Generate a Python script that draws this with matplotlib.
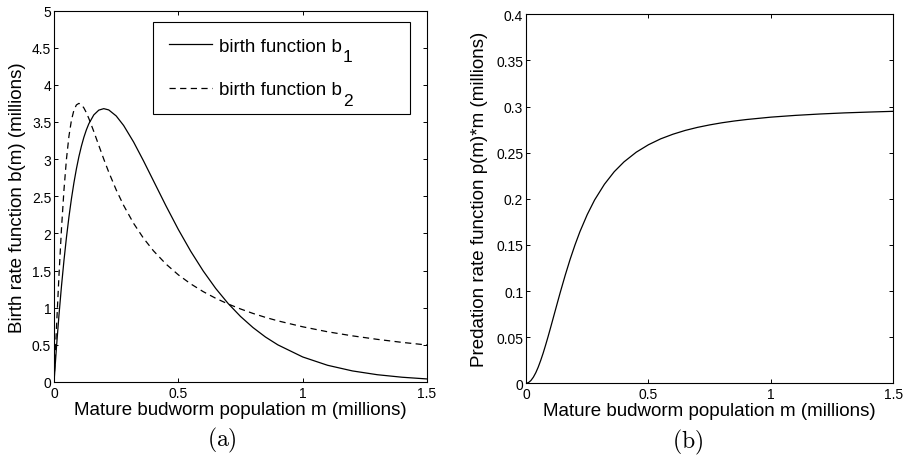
import matplotlib
matplotlib.use("Agg")
import matplotlib.pyplot as plt
from matplotlib import font_manager
from matplotlib.ticker import FuncFormatter

# Mature budworm population m (millions)
m = [0, 0.01, 0.02, 0.03, 0.04, 0.05, 0.06, 0.07, 0.08, 0.09, 0.10, 0.11, 0.12,
     0.13, 0.14, 0.16, 0.18, 0.20, 0.22, 0.25, 0.28, 0.32, 0.36, 0.40, 0.45,
     0.50, 0.55, 0.60, 0.65, 0.70, 0.75, 0.80, 0.85, 0.90, 1.00, 1.10, 1.20,
     1.30, 1.40, 1.50]

# Birth function b1 (millions)
b1 = [0, 0.476, 0.905, 1.291, 1.637, 1.947, 2.222, 2.466, 2.681, 2.869, 3.033,
      3.173, 3.293, 3.393, 3.476, 3.595, 3.659, 3.679, 3.662, 3.581, 3.452,
      3.230, 2.975, 2.707, 2.372, 2.052, 1.758, 1.494, 1.260, 1.057, 0.882,
      0.733, 0.606, 0.500, 0.337, 0.225, 0.149, 0.098, 0.064, 0.041]

# Birth function b2 (millions)
b2 = [0, 0.743, 1.442, 2.064, 2.586, 3.000, 3.309, 3.523, 3.659, 3.729, 3.750,
      3.733, 3.689, 3.625, 3.547, 3.371, 3.184, 3.000, 2.825, 2.586, 2.376,
      2.135, 1.934, 1.765, 1.588, 1.442, 1.320, 1.216, 1.127, 1.050, 0.983,
      0.923, 0.870, 0.823, 0.743, 0.676, 0.621, 0.574, 0.533, 0.498]

# Predation rate p(m)*m (millions)
pred = [0, 0.0007, 0.0030, 0.0066, 0.0115, 0.0176, 0.0248, 0.0327, 0.0414,
        0.0505, 0.0600, 0.0697, 0.0794, 0.0891, 0.0987, 0.1171, 0.1343, 0.1500,
        0.1643, 0.1829, 0.1987, 0.2157, 0.2293, 0.2400, 0.2505, 0.2586, 0.2650,
        0.2700, 0.2741, 0.2774, 0.2801, 0.2824, 0.2843, 0.2859, 0.2885, 0.2904,
        0.2919, 0.2931, 0.2940, 0.2948]

x_ticks = [0, 0.5, 1, 1.5]
birth_ticks = [0, 0.5, 1, 1.5, 2, 2.5, 3, 3.5, 4, 4.5, 5]
pred_ticks = [0, 0.05, 0.1, 0.15, 0.2, 0.25, 0.3, 0.35, 0.4]

x_label = "Mature budworm population m (millions)"
birth_label = "Birth rate function b(m) (millions)"
pred_label = "Predation rate function p(m)*m (millions)"
legend_labels = ["birth function b", "birth function b"]
legend_subscripts = ["1", "2"]
captions = [r"$\mathrm{(a)}$", r"$\mathrm{(b)}$"]

installed = {f.name for f in font_manager.fontManager.ttflist}
sans = "Liberation Sans" if "Liberation Sans" in installed else "DejaVu Sans"
narrow = "Liberation Sans Narrow" if "Liberation Sans Narrow" in installed else sans

plt.rcParams["font.family"] = [sans, "DejaVu Sans"]
plt.rcParams["axes.linewidth"] = 0.8

fig = plt.figure(figsize=(9.08, 4.60), dpi=100)
ax1 = fig.add_axes([0.0595, 0.1674, 0.4108, 0.8076])
ax2 = fig.add_axes([0.5793, 0.1646, 0.4047, 0.8022])

fmt = FuncFormatter(lambda v, p: f"{v:g}")

ax1.plot(m, b1, color="k", lw=0.9, label=legend_labels[0])
ax1.plot(m, b2, color="k", lw=0.9, dashes=(5, 3.5), label=legend_labels[1])
ax1.set_xlim(0, 1.5)
ax1.set_ylim(0, 5)
ax1.set_yticks(birth_ticks)

ax2.plot(m, pred, color="k", lw=0.9)
ax2.set_xlim(0, 1.5)
ax2.set_ylim(0, 0.4)
ax2.set_yticks(pred_ticks)

for ax, ylab, ycoord in ((ax1, birth_label, -0.075), (ax2, pred_label, -0.103)):
    ax.set_xticks(x_ticks)
    ax.xaxis.set_major_formatter(fmt)
    ax.yaxis.set_major_formatter(fmt)
    ax.tick_params(direction="in", top=True, right=True, length=3, width=0.7,
                   labelsize=10, labelfontfamily=narrow, colors="k")
    ax.tick_params(axis="y", pad=2)
    ax.tick_params(axis="x", pad=3)
    ax.set_xlabel(x_label, fontsize=13.5)
    ax.set_ylabel(ylab, fontsize=13.5)
    ax.xaxis.set_label_coords(0.5, -0.052)
    ax.yaxis.set_label_coords(ycoord, 0.5)

leg = ax1.legend(loc="upper left", bbox_to_anchor=(0.266, 0.717, 0.688, 0.253),
                 mode="expand", borderaxespad=0, handlelength=2.3,
                 handletextpad=0.35, borderpad=0.85, labelspacing=1.4,
                 fancybox=False, fontsize=13.5, edgecolor="k", framealpha=1)
leg.get_frame().set_linewidth(0.8)

# MATLAB-style subscripts: nearly full size and set well below the baseline
for txt, sub in zip(leg.get_texts(), legend_subscripts):
    ax1.annotate(sub, xy=(1, 0), xycoords=txt, xytext=(0.8, -4.8),
                 textcoords="offset points", fontsize=12.5,
                 ha="left", va="baseline", zorder=6)

fig.text(222 / 908, 1 - 440 / 460, captions[0], math_fontfamily="cm",
         fontsize=17, ha="center", va="center")
fig.text(688 / 908, 1 - 442 / 460, captions[1], math_fontfamily="cm",
         fontsize=17, ha="center", va="center")

fig.savefig("out.png", dpi=100)
